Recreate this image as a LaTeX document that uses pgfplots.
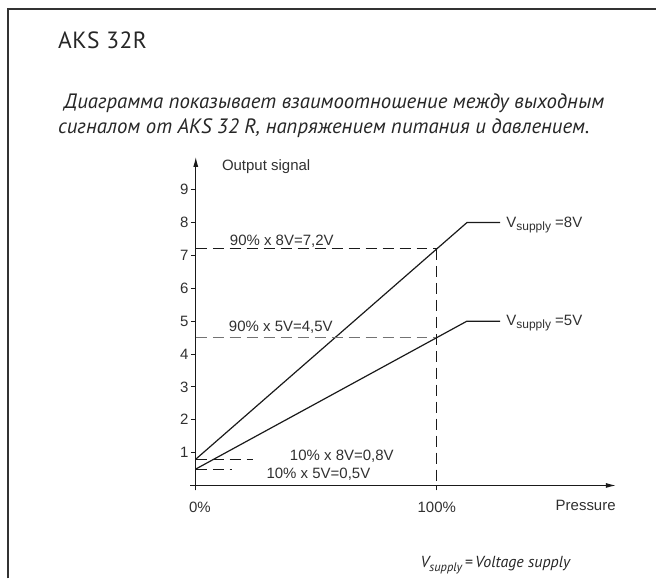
\documentclass[border=0pt]{standalone}
\usepackage{pgfplots}
\pgfplotsset{compat=1.18}
\usepackage{fontspec}
\setmainfont{Liberation Sans}
\newfontfamily\myriad{PT Sans}
\newfontfamily\myriadw{PT Sans}[LetterSpace=2]
\usetikzlibrary{arrows.meta}
\definecolor{txt}{HTML}{303030}
\definecolor{ln}{HTML}{1A1A1A}
\begin{document}
\begin{tikzpicture}[x=1pt,y=1pt]
\path (0,0) rectangle (657,-579);
\draw[line width=1.6pt, color=black!80] (8,-579) -- (8,-9) -- (657,-9);
\node[anchor=base west, inner sep=0, font=\myriadw\fontsize{23.5}{26}\selectfont, text=black!85] at (58,-49) {AKS 32R};
\node[anchor=base west, inner sep=0, font=\myriad\itshape\fontsize{20.8}{24}\selectfont, text=black!85] at (64,-109) {Диаграмма показывает взаимоотношение между выходным};
\node[anchor=base west, inner sep=0, font=\myriad\itshape\fontsize{20.8}{24}\selectfont, text=black!85] at (58,-134) {сигналом от AKS 32 R, напряжением питания и давлением.};
\node[anchor=base west, inner sep=0, font=\myriad\itshape\fontsize{16}{18}\selectfont, text=black!85] at (421,-568) {V\raisebox{-4pt}{\fontsize{12.5}{12}\selectfont supply}\,=\,Voltage supply};
\begin{axis}[
  at={(190.7pt,-491pt)}, anchor=south west,
  x=2.413pt, y=32.9pt,
  xmin=-2.2, xmax=174.3, ymin=-0.15, ymax=10.0,
  axis lines=middle,
  axis line style={line width=1pt, color=ln},
  every inner x axis line/.append style={-{Latex[length=10pt,width=5pt]}},
  every inner y axis line/.append style={-{Latex[length=10pt,width=5pt]}},
  clip=false,
  hide obscured x ticks=false,
  xtick={0,100}, xticklabels={\hphantom{0}0\%,100\%},
  ytick={1,2,3,4,5,6,7,8,9},
  tick align=outside,
  major tick length=5pt,
  tick style={line width=0.8pt, color=ln},
  /pgf/number format/assume math mode=true,
  ticklabel style={font=\fontsize{15}{18}\selectfont, text=txt},
  yticklabel style={inner sep=2pt},
  xticklabel style={yshift=-8pt},
]
% main characteristic lines
\addplot[line width=1.2pt, color=ln] coordinates {(0,0.8) (100,7.2) (112.5,8) (126.3,8)};
\addplot[line width=1.2pt, color=ln] coordinates {(0,0.5) (100,4.5) (112.5,5) (126.3,5)};
% dashed guide lines
\addplot[line width=1pt, color=ln, dash pattern=on 11pt off 6pt] coordinates {(0,7.2) (100,7.2)};
\addplot[line width=1pt, color=black!55, dash pattern=on 11pt off 6pt] coordinates {(0,4.5) (100,4.5)};
\addplot[line width=1pt, color=ln, dash pattern=on 11pt off 6pt] coordinates {(100,7.2) (100,-0.15)};
\addplot[line width=1pt, color=ln, dash pattern=on 11pt off 6pt] coordinates {(0,0.8) (23.7,0.8)};
\addplot[line width=1pt, color=ln, dash pattern=on 11pt off 6pt] coordinates {(0,0.5) (15.2,0.5)};
% annotations
\begin{scope}[every node/.style={inner sep=0, text=txt, font=\fontsize{15}{18}\selectfont}]
\node[anchor=base west] at (axis cs:14.1,7.31) {90\% x 8V=7,2V};
\node[anchor=base west] at (axis cs:13.7,4.68) {90\% x 5V=4,5V};
\node[anchor=base west] at (axis cs:39.0,0.748) {10\% x 8V=0,8V};
\node[anchor=base west] at (axis cs:29.3,0.20) {10\% x 5V=0,5V};
\node[anchor=base west] at (axis cs:128.8,7.84) {V\raisebox{-3pt}{\fontsize{12}{12}\selectfont supply} =8V};
\node[anchor=base west] at (axis cs:128.8,4.87) {V\raisebox{-3pt}{\fontsize{12}{12}\selectfont supply} =5V};
\node[anchor=base east] at (axis cs:174.3,-0.77) {Pressure};
\node[anchor=base west] at (axis cs:10.8,9.58) {Output signal};
\end{scope}
\end{axis}
\end{tikzpicture}
\end{document}
